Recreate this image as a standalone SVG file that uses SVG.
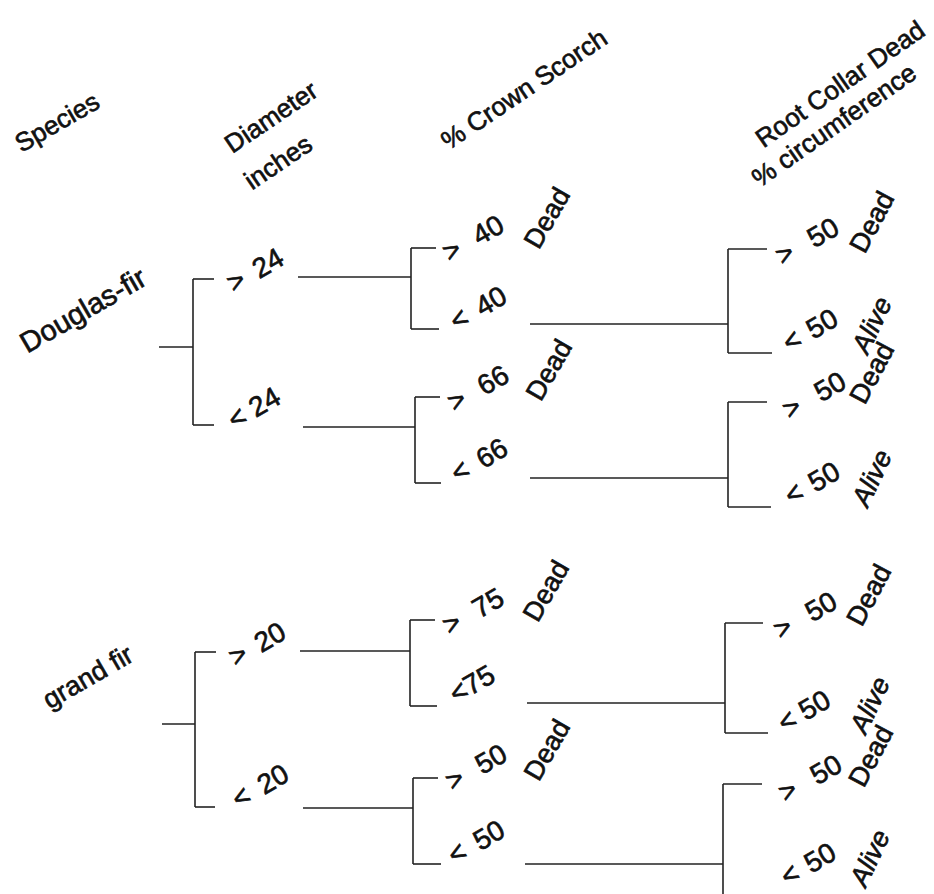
<svg xmlns="http://www.w3.org/2000/svg" width="934" height="894" viewBox="0 0 934 894">
<style>
text{font-family:"Liberation Sans",Arial,sans-serif;font-size:27px;fill:#111;stroke:#111;stroke-width:0.65;text-anchor:middle;dominant-baseline:central}
.h{font-size:26px}
.n{font-size:28px}
.alive{font-style:italic}
#connectors line{stroke:#222;stroke-width:1.6;fill:none}
</style>
<rect width="934" height="894" fill="#fff"/>
<g id="headers">
<text class="h" transform="translate(57,122) rotate(-30)">Species</text>
<text class="h" transform="translate(271,117) rotate(-34)">Diameter</text>
<text class="h" transform="translate(278,162) rotate(-34)">inches</text>
<text class="h" transform="translate(524,89) rotate(-34)">% Crown Scorch</text>
<text class="h" transform="translate(840,84) rotate(-35)">Root Collar Dead</text>
<text class="h" transform="translate(834,125) rotate(-35)">% circumference</text>
</g>
<g id="connectors">
<line x1="159" y1="347" x2="193" y2="347"/>
<line x1="193" y1="279" x2="193" y2="425"/>
<line x1="193" y1="279" x2="214" y2="279"/>
<line x1="193" y1="425" x2="214" y2="425"/>
<line x1="298" y1="277" x2="411" y2="277"/>
<line x1="411" y1="248" x2="411" y2="329"/>
<line x1="411" y1="248" x2="436" y2="248"/>
<line x1="411" y1="329" x2="439" y2="329"/>
<line x1="303" y1="427" x2="415" y2="427"/>
<line x1="415" y1="397" x2="415" y2="483"/>
<line x1="415" y1="397" x2="440" y2="397"/>
<line x1="415" y1="483" x2="441" y2="483"/>
<line x1="530" y1="324" x2="728" y2="324"/>
<line x1="728" y1="249" x2="728" y2="353"/>
<line x1="728" y1="249" x2="767" y2="249"/>
<line x1="728" y1="353" x2="772" y2="353"/>
<line x1="530" y1="478" x2="728" y2="478"/>
<line x1="728" y1="402" x2="728" y2="507"/>
<line x1="728" y1="402" x2="767" y2="402"/>
<line x1="728" y1="507" x2="771" y2="507"/>
<line x1="162" y1="724" x2="195" y2="724"/>
<line x1="195" y1="652" x2="195" y2="807"/>
<line x1="195" y1="652" x2="216" y2="652"/>
<line x1="195" y1="807" x2="215" y2="807"/>
<line x1="300" y1="651" x2="410" y2="651"/>
<line x1="410" y1="620" x2="410" y2="706"/>
<line x1="410" y1="620" x2="435" y2="620"/>
<line x1="410" y1="706" x2="437" y2="706"/>
<line x1="303" y1="808" x2="413" y2="808"/>
<line x1="413" y1="778" x2="413" y2="864"/>
<line x1="413" y1="778" x2="438" y2="778"/>
<line x1="413" y1="864" x2="441" y2="864"/>
<line x1="527" y1="703" x2="725" y2="703"/>
<line x1="725" y1="623" x2="725" y2="733"/>
<line x1="725" y1="623" x2="763" y2="623"/>
<line x1="725" y1="733" x2="768" y2="733"/>
<line x1="525" y1="864" x2="723" y2="864"/>
<line x1="723" y1="784" x2="723" y2="894"/>
<line x1="723" y1="784" x2="762" y2="784"/>
</g>
<g id="species-douglas-fir"><text transform="translate(83,310) rotate(-30)" style="font-size:29px">Douglas-fir</text></g>
<g id="species-grand-fir"><text transform="translate(88,677) rotate(-30)" style="font-size:27px">grand fir</text></g>

<g id="df-dia-gt24"><text class="n" transform="translate(255,270) rotate(-30)">&gt; <tspan dx="5">24</tspan></text></g>
<g id="df-dia-lt24"><text class="n" transform="translate(254,408) rotate(-30)">&lt; 24</text></g>
<g id="gf-dia-gt20"><text class="n" transform="translate(257,644) rotate(-30)">&gt; <tspan dx="5">20</tspan></text></g>
<g id="gf-dia-lt20"><text class="n" transform="translate(260,786) rotate(-30)">&lt; <tspan dx="5">20</tspan></text></g>

<g id="df-cs-gt40"><text class="n" transform="translate(473,238) rotate(-30)">&gt; <tspan dx="10">40</tspan></text><text transform="translate(547,218) rotate(-60)">Dead</text></g>
<g id="df-cs-lt40"><text class="n" transform="translate(478,308) rotate(-30)">&lt; <tspan dx="5">40</tspan></text></g>
<g id="df-cs-gt66"><text class="n" transform="translate(478,388) rotate(-30)">&gt; <tspan dx="10">66</tspan></text><text transform="translate(549,370) rotate(-60)">Dead</text></g>
<g id="df-cs-lt66"><text class="n" transform="translate(479,460) rotate(-30)">&lt; <tspan dx="5">66</tspan></text></g>
<g id="gf-cs-gt75"><text class="n" transform="translate(473,611) rotate(-30)">&gt; <tspan dx="10">75</tspan></text><text transform="translate(546,591) rotate(-60)">Dead</text></g>
<g id="gf-cs-lt75"><text class="n" transform="translate(472,684) rotate(-30)">&lt;75</text></g>
<g id="gf-cs-gt50"><text class="n" transform="translate(476,767) rotate(-30)">&gt; <tspan dx="10">50</tspan></text><text transform="translate(547,750) rotate(-60)">Dead</text></g>
<g id="gf-cs-lt50"><text class="n" transform="translate(476,842) rotate(-30)">&lt; <tspan dx="5">50</tspan></text></g>

<g id="df1-rc-gt50"><text class="n" transform="translate(807,241) rotate(-30)">&gt; <tspan dx="12">50</tspan></text><text transform="translate(872,222) rotate(-62)">Dead</text></g>
<g id="df1-rc-lt50"><text class="n" transform="translate(810,330) rotate(-30)">&lt; <tspan dx="3">50</tspan></text><text class="alive" transform="translate(872,325) rotate(-65)">Alive</text></g>
<g id="df2-rc-gt50"><text class="n" transform="translate(814,395) rotate(-30)">&gt; <tspan dx="12">50</tspan></text><text transform="translate(872,373) rotate(-62)">Dead</text></g>
<g id="df2-rc-lt50"><text class="n" transform="translate(812,483) rotate(-30)">&lt; <tspan dx="3">50</tspan></text><text class="alive" transform="translate(872,478) rotate(-65)">Alive</text></g>
<g id="gf1-rc-gt50"><text class="n" transform="translate(805,615) rotate(-30)">&gt; <tspan dx="12">50</tspan></text><text transform="translate(869,595) rotate(-62)">Dead</text></g>
<g id="gf1-rc-lt50"><text class="n" transform="translate(804,711) rotate(-30)">&lt; 50</text><text class="alive" transform="translate(870,705) rotate(-65)">Alive</text></g>
<g id="gf2-rc-gt50"><text class="n" transform="translate(810,778) rotate(-30)">&gt; <tspan dx="12">50</tspan></text><text transform="translate(871,756) rotate(-62)">Dead</text></g>
<g id="gf2-rc-lt50"><text class="n" transform="translate(808,864) rotate(-30)">&lt; <tspan dx="3">50</tspan></text><text class="alive" transform="translate(870,858) rotate(-65)">Alive</text></g>
</svg>
